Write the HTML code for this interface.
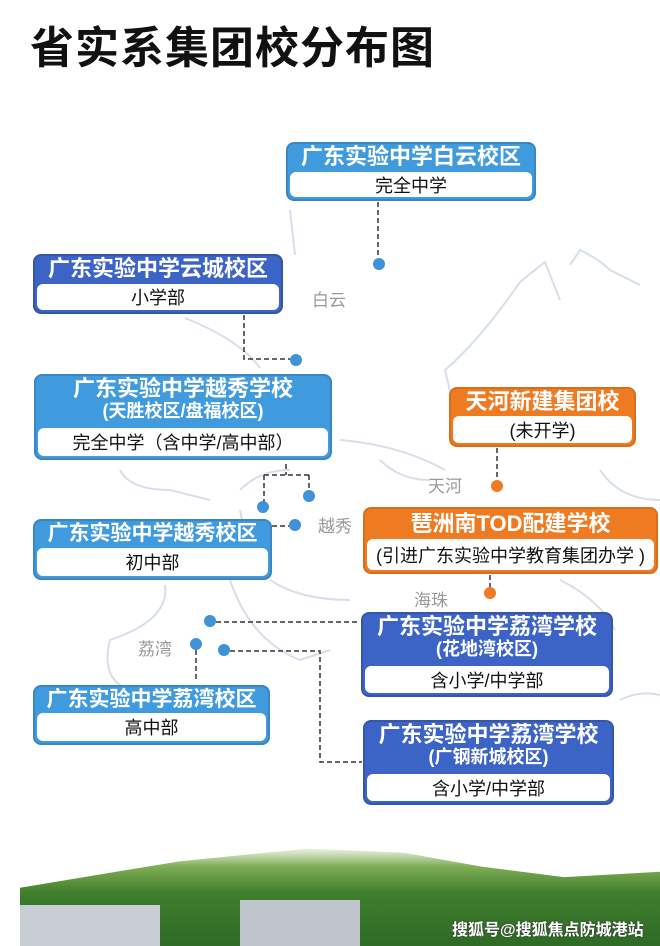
<!DOCTYPE html>
<html><head><meta charset="utf-8"><style>
body{margin:0;width:660px;height:946px;background:#fff;position:relative;overflow:hidden;font-family:"Liberation Sans","Noto Sans CJK SC",sans-serif}
.b{position:absolute;border-radius:8px;box-sizing:border-box;color:#fff;text-align:center;font-weight:bold;border:2px solid}
.b .h{font-size:22px;line-height:26px;padding-top:0px;letter-spacing:0px;white-space:nowrap}
.b .s{font-size:18px;line-height:19px}
.b .w{position:absolute;left:2px;right:2px;bottom:2px;background:#fff;border-radius:6px;color:#111;font-weight:normal;font-size:18px;display:flex;align-items:center;justify-content:center;white-space:nowrap}
.lb{background:#3f9ade;border-color:#3a86c0}
.db{background:#3c63c6;border-color:#3656a8}
.or{background:#ee7b22;border-color:#d86e1c}
.t{position:absolute;color:#999;font-size:17px}
svg{position:absolute;left:0;top:0}
</style></head><body>
<div style="position:absolute;left:30px;top:12px;font-size:44px;font-weight:bold;color:#111;letter-spacing:1px">省实系集团校分布图</div>
<svg width="660" height="946">
<g fill="none" stroke="#d6dfe9" stroke-width="2">
<path d="M290 210 L295 255 M185 318 Q240 340 260 368 M455 412 L445 370 Q480 340 520 282 L545 262 L560 300 M570 265 L580 250 Q600 260 610 270 L640 285 M445 470 Q400 445 340 440 M240 490 Q260 470 290 470 M120 470 Q130 490 170 490 L210 500 M240 510 L250 560 M270 580 Q300 600 350 600 M165 585 Q170 620 110 640 Q100 680 130 690 M230 580 Q250 640 300 660 L330 650 M600 470 Q620 500 660 500 M560 580 Q600 600 615 630 M620 700 Q640 690 660 695 M380 460 Q400 480 430 480"/>
</g>
<g fill="none" stroke="#333" stroke-width="1.5" stroke-dasharray="5,3">
<path d="M378 202 V258"/>
<path d="M244 315 V359 H290"/>
<path d="M286 464 V475 M264 475 H309 M264 475 V502 M309 475 V490"/>
<path d="M272 526 H289"/>
<path d="M497 448 V480"/>
<path d="M490 575 V588"/>
<path d="M216 622 H360"/>
<path d="M196 650 V680"/>
<path d="M230 651 H320 V762 H362"/>
</g>
<g fill="#3f91d8">
<circle cx="379" cy="264" r="6"/><circle cx="296" cy="360" r="6"/><circle cx="263" cy="507" r="6"/><circle cx="309" cy="496" r="6"/><circle cx="295" cy="525" r="6"/><circle cx="210" cy="621" r="6"/><circle cx="196" cy="644" r="6"/><circle cx="224" cy="650" r="6"/>
</g>
<g fill="#ee7b22"><circle cx="497" cy="486" r="6"/><circle cx="490" cy="593" r="6"/></g>
</svg>
<div class="t" style="left:312px;top:286px">白云</div>
<div class="t" style="left:428px;top:472px">天河</div>
<div class="t" style="left:318px;top:512px">越秀</div>
<div class="t" style="left:414px;top:586px">海珠</div>
<div class="t" style="left:138px;top:635px">荔湾</div>

<div class="b lb" style="left:286px;top:142px;width:250px;height:59px"><div class="h">广东实验中学白云校区</div><div class="w" style="height:25px">完全中学</div></div>
<div class="b db" style="left:33px;top:254px;width:250px;height:60px"><div class="h">广东实验中学云城校区</div><div class="w" style="height:26px">小学部</div></div>
<div class="b lb" style="left:34px;top:374px;width:298px;height:86px"><div class="h">广东实验中学越秀学校</div><div class="s">(天胜校区/盘福校区)</div><div class="w" style="height:28px">完全中学（含中学/高中部）</div></div>
<div class="b or" style="left:449px;top:387px;width:187px;height:60px"><div class="h">天河新建集团校</div><div class="w" style="height:27px">(未开学)</div></div>
<div class="b or" style="left:363px;top:507px;width:295px;height:67px"><div class="h" style="padding-top:2px">琶洲南TOD配建学校</div><div class="w" style="height:31px">(引进广东实验中学教育集团办学 )</div></div>
<div class="b lb" style="left:33px;top:519px;width:239px;height:61px"><div class="h" style="font-size:21px">广东实验中学越秀校区</div><div class="w" style="height:28px">初中部</div></div>
<div class="b db" style="left:361px;top:612px;width:252px;height:85px"><div class="h">广东实验中学荔湾学校</div><div class="s">(花地湾校区)</div><div class="w" style="height:27px">含小学/中学部</div></div>
<div class="b lb" style="left:33px;top:685px;width:237px;height:60px"><div class="h" style="font-size:21px">广东实验中学荔湾校区</div><div class="w" style="height:28px">高中部</div></div>
<div class="b db" style="left:363px;top:720px;width:251px;height:85px"><div class="h">广东实验中学荔湾学校</div><div class="s">(广钢新城校区)</div><div class="w" style="height:27px">含小学/中学部</div></div>

<div style="position:absolute;left:20px;top:840px;width:640px;height:106px;background:linear-gradient(180deg,#fff 0%,#fff 5%,#7fae55 25%,#3f7e2c 50%,#2f6a26 100%);clip-path:polygon(0 45%,10% 35%,25% 20%,45% 8%,60% 12%,72% 25%,85% 35%,100% 30%,100% 100%,0 100%)"></div>
<div style="position:absolute;left:20px;top:905px;width:140px;height:41px;background:#c9ced4"></div>
<div style="position:absolute;left:240px;top:900px;width:120px;height:46px;background:#bfc4ca"></div>
<div style="position:absolute;left:452px;top:916px;color:#fff;font-size:16px;font-weight:bold;text-shadow:0 0 2px #333">搜狐号@搜狐焦点防城港站</div>
</body></html>
